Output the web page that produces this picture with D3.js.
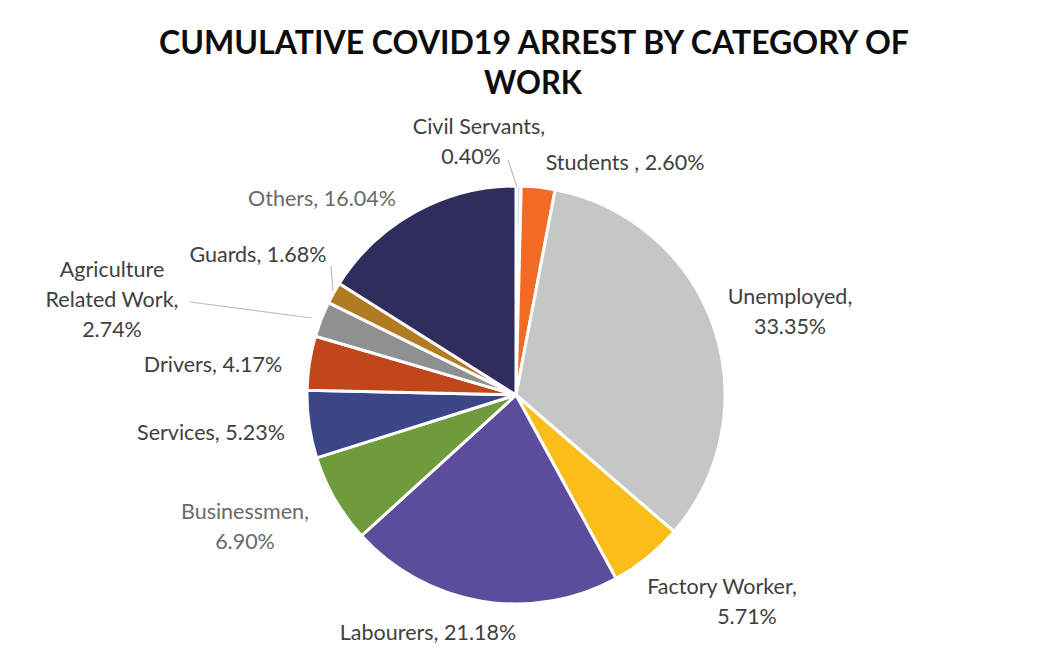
<!DOCTYPE html>
<html>
<head>
<meta charset="utf-8">
<script src="https://cdn.jsdelivr.net/npm/d3@7"></script>
<style>
  html, body { margin: 0; padding: 0; background: #fff; }
  svg { display: block; }
  text { font-family: "Lato", "Open Sans", sans-serif; }
</style>
</head>
<body>
<svg id="chart" width="1038" height="666"></svg>
<script>
// Share of cumulative COVID19 arrests by category of work (%)
const categories = [
  "Civil Servants", "Students ", "Unemployed", "Factory Worker", "Labourers",
  "Businessmen", "Services", "Drivers", "Agriculture Related Work", "Guards", "Others"
];
const values = [0.40, 2.60, 33.35, 5.71, 21.18, 6.90, 5.23, 4.17, 2.74, 1.68, 16.04];
const colors = [
  "#d3e1ee", "#f26a24", "#c5c7c6", "#fbbd1a", "#5b4c9c",
  "#6f9b3c", "#3b4588", "#c1461b", "#8e9191", "#b27a22", "#2f2d5e"
];

// label layout: centre x, first line baseline y, line breaks
const labelLayout = [
  { x: 479, y: 134, lines: ["Civil Servants,", "0.40%"], dx: [0, -8] },
  { x: 625, y: 170, lines: ["Students , 2.60%"] },
  { x: 790, y: 304, lines: ["Unemployed,", "33.35%"] },
  { x: 722, y: 594, lines: ["Factory Worker,", "5.71%"], dx: [0, 25] },
  { x: 428, y: 640, lines: ["Labourers, 21.18%"] },
  { x: 245, y: 519, lines: ["Businessmen,", "6.90%"], fill: "#6a6a6a" },
  { x: 211, y: 440, lines: ["Services, 5.23%"] },
  { x: 213, y: 372, lines: ["Drivers, 4.17%"] },
  { x: 112, y: 277, lines: ["Agriculture", "Related Work,", "2.74%"] },
  { x: 258, y: 262, lines: ["Guards, 1.68%"] },
  { x: 322, y: 206, lines: ["Others, 16.04%"], fill: "#6a6a6a" }
];
// leader lines for the thin slices: label end → slice edge
const leaders = [
  { i: 0, pts: [[508, 160], [517, 187]] },
  { i: 9, pts: [[331, 266], [333, 291]] },
  { i: 8, pts: [[190, 302], [312, 318]] }
];

const svg = d3.select("#chart");
const cx = 516, cy = 395, r = 209;

// title
const title = svg.append("g").attr("font-weight", 700).attr("fill", "#0d0d0d")
  .attr("font-size", 32).attr("text-anchor", "middle");
title.append("text").attr("x", 534).attr("y", 54)
  .attr("textLength", 750).attr("lengthAdjust", "spacingAndGlyphs")
  .text("CUMULATIVE COVID19 ARREST BY CATEGORY OF");
title.append("text").attr("x", 533).attr("y", 94)
  .attr("textLength", 98).attr("lengthAdjust", "spacingAndGlyphs")
  .text("WORK");

// pie, clockwise from 12 o'clock in data order
const pie = d3.pie().sort(null).value(d => d)(values);
const arc = d3.arc().innerRadius(0).outerRadius(r);

const g = svg.append("g").attr("transform", `translate(${cx},${cy})`);
g.selectAll("path").data(pie).join("path")
  .attr("d", arc)
  .attr("fill", (d, i) => colors[i])
  .attr("stroke", "#fff")
  .attr("stroke-width", 3)
  .attr("stroke-linejoin", "round");

// leader lines
svg.append("g").selectAll("polyline").data(leaders).join("polyline")
  .attr("points", d => d.pts.map(p => p.join(",")).join(" "))
  .attr("fill", "none")
  .attr("stroke", "#bfbfbf")
  .attr("stroke-width", 1.2);

// data labels
const lg = svg.append("g").attr("font-size", 21.5).attr("text-anchor", "middle");
labelLayout.forEach((L, i) => {
  const t = lg.append("text").attr("fill", L.fill || "#404040");
  L.lines.forEach((line, k) => {
    t.append("tspan")
      .attr("x", L.x + (L.dx ? L.dx[k] : 0))
      .attr("y", L.y + k * 30)
      .text(line);
  });
});
</script>
</body>
</html>
